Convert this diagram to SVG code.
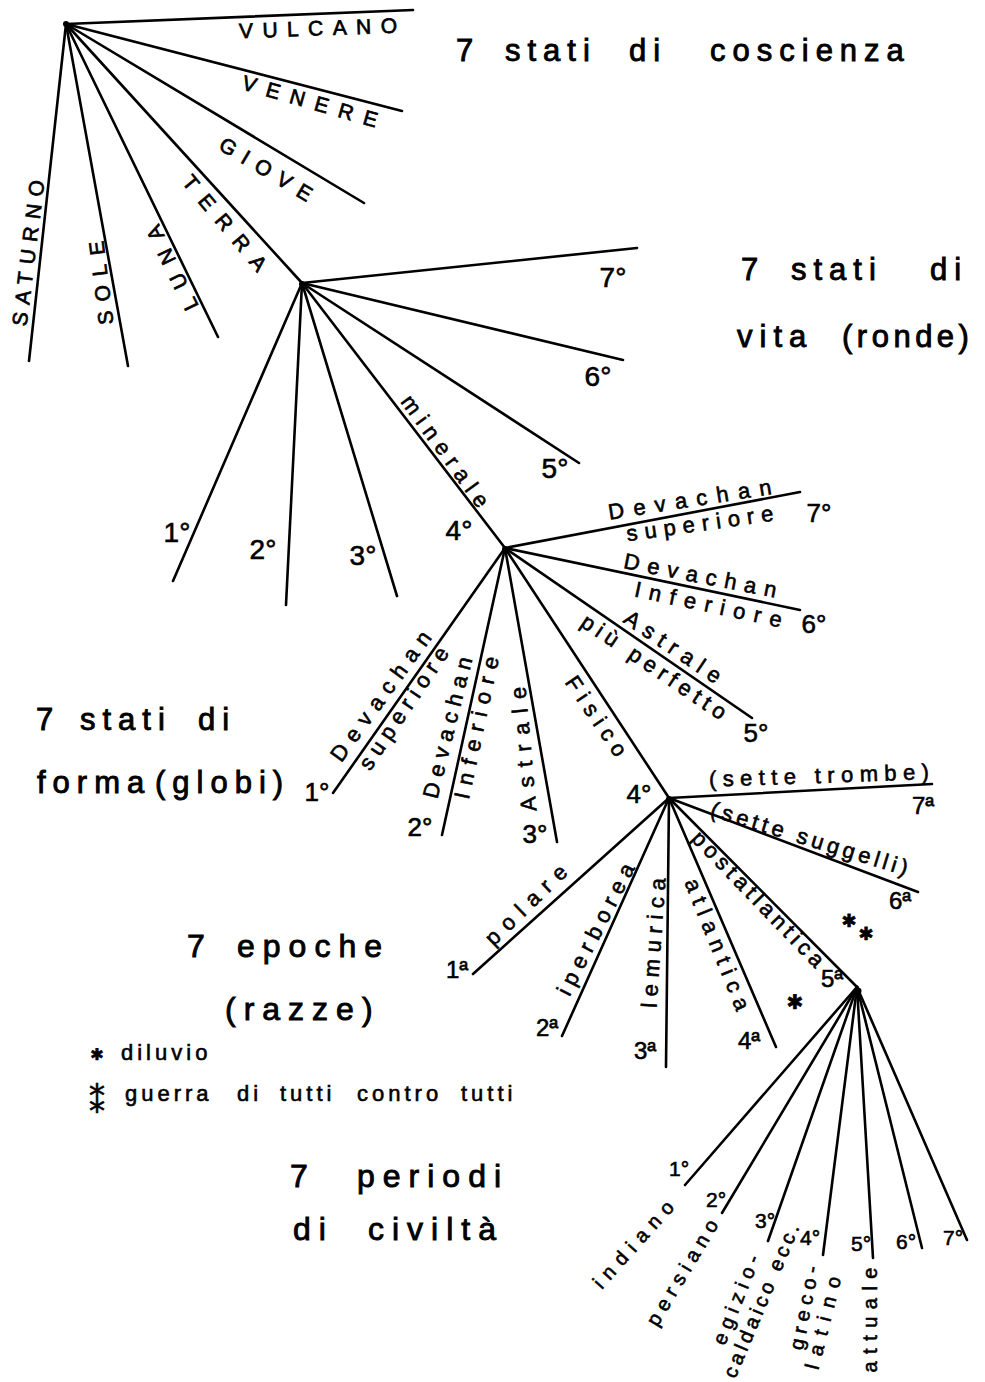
<svg xmlns="http://www.w3.org/2000/svg" width="985" height="1382" viewBox="0 0 985 1382">
<style>
.ln{stroke:#000;stroke-width:2.6;stroke-linecap:round;fill:none}
.knot{fill:#000}
text{font-family:"Liberation Sans","DejaVu Sans",sans-serif;fill:#000;stroke:#000;stroke-width:0.6px}
.hd{font-size:31px;letter-spacing:7px;stroke-width:0.9px}
.hd2{font-size:32px;letter-spacing:8px;stroke-width:0.9px}
.cap{font-size:21px;text-anchor:middle;stroke-width:0.7px}
.lb{font-size:22px;text-anchor:middle}
.lb2{font-size:20px;text-anchor:middle}
.o2{font-size:28px;text-anchor:middle}
.o3{font-size:26px;text-anchor:middle}
.o4{font-size:24px;text-anchor:middle}
.o5{font-size:21px;text-anchor:middle}
.lg{font-size:22px;letter-spacing:4px}
.sym{font-family:"DejaVu Sans",sans-serif;text-anchor:middle}
</style>
<rect width="985" height="1382" fill="#fff"/>

<g id="connectors">
  <g id="fan1">
    <line class="ln" x1="66" y1="24" x2="413" y2="10"/>
    <line class="ln" x1="66" y1="24" x2="402" y2="111"/>
    <line class="ln" x1="66" y1="24" x2="364" y2="203"/>
    <line class="ln" x1="66" y1="24" x2="302" y2="283"/>
    <line class="ln" x1="66" y1="24" x2="218" y2="337"/>
    <line class="ln" x1="66" y1="24" x2="128" y2="366"/>
    <line class="ln" x1="66" y1="24" x2="29" y2="361"/>
    <circle class="knot" cx="66" cy="24" r="3"/>
  </g>
  <g id="fan2">
    <line class="ln" x1="302" y1="283" x2="637" y2="248"/>
    <line class="ln" x1="302" y1="283" x2="623" y2="360"/>
    <line class="ln" x1="302" y1="283" x2="579" y2="463"/>
    <line class="ln" x1="302" y1="283" x2="505" y2="548"/>
    <line class="ln" x1="302" y1="283" x2="397" y2="596"/>
    <line class="ln" x1="302" y1="283" x2="286" y2="605"/>
    <line class="ln" x1="302" y1="283" x2="173" y2="581"/>
    <circle class="knot" cx="302" cy="284" r="3"/>
  </g>
  <g id="fan3">
    <line class="ln" x1="505" y1="548" x2="800" y2="492"/>
    <line class="ln" x1="505" y1="548" x2="800" y2="610"/>
    <line class="ln" x1="505" y1="548" x2="752" y2="718"/>
    <line class="ln" x1="505" y1="548" x2="669" y2="798"/>
    <line class="ln" x1="505" y1="548" x2="557" y2="842"/>
    <line class="ln" x1="505" y1="548" x2="442" y2="835"/>
    <line class="ln" x1="505" y1="548" x2="333" y2="793"/>
    <circle class="knot" cx="505" cy="549" r="3"/>
  </g>
  <g id="fan4">
    <line class="ln" x1="669" y1="798" x2="932" y2="784"/>
    <line class="ln" x1="669" y1="798" x2="918" y2="892"/>
    <line class="ln" x1="669" y1="798" x2="857" y2="987"/>
    <line class="ln" x1="669" y1="798" x2="776" y2="1047"/>
    <line class="ln" x1="669" y1="798" x2="666" y2="1067"/>
    <line class="ln" x1="669" y1="798" x2="562" y2="1036"/>
    <line class="ln" x1="669" y1="798" x2="473" y2="974"/>
    <circle class="knot" cx="669" cy="799" r="3"/>
  </g>
  <g id="fan5">
    <line class="ln" x1="857" y1="987" x2="685" y2="1185"/>
    <line class="ln" x1="857" y1="987" x2="722" y2="1213"/>
    <line class="ln" x1="857" y1="987" x2="768" y2="1241"/>
    <line class="ln" x1="857" y1="987" x2="823" y2="1255"/>
    <line class="ln" x1="857" y1="987" x2="873" y2="1258"/>
    <line class="ln" x1="857" y1="987" x2="922" y2="1248"/>
    <line class="ln" x1="857" y1="987" x2="967" y2="1240"/>
    <circle class="knot" cx="858" cy="991" r="3.5"/>
  </g>
</g>

<g id="heading-coscienza">
  <text class="hd" y="61"><tspan x="456">7 </tspan><tspan x="505">stati </tspan><tspan x="629">di </tspan><tspan x="710">coscienza</tspan></text>
</g>
<g id="heading-vita">
  <text class="hd" y="280"><tspan x="741">7 </tspan><tspan x="791">stati </tspan><tspan x="930">di</tspan></text>
  <text class="hd" y="347"><tspan x="737">vita </tspan><tspan x="842" style="letter-spacing:4.5px">(ronde)</tspan></text>
</g>
<g id="heading-forma">
  <text class="hd" y="730"><tspan x="36">7 </tspan><tspan x="80">stati </tspan><tspan x="198">di</tspan></text>
  <text class="hd" y="793"><tspan x="37">forma </tspan><tspan x="155">(globi)</tspan></text>
</g>
<g id="heading-epoche">
  <text class="hd2" y="957"><tspan x="187">7 </tspan><tspan x="237">epoche</tspan></text>
  <text class="hd2" x="225" y="1020">(razze)</text>
</g>
<g id="legend">
  <text class="sym" x="97" y="1060" font-size="16">✱</text>
  <text class="lg" x="121" y="1060">diluvio</text>
  <text class="sym" x="97" y="1113" font-size="32">⁑</text>
  <text class="lg" y="1101"><tspan x="125">guerra </tspan><tspan x="237">di </tspan><tspan x="280">tutti </tspan><tspan x="357">contro </tspan><tspan x="461">tutti</tspan></text>
</g>
<g id="heading-periodi">
  <text class="hd2" y="1187"><tspan x="290">7 </tspan><tspan x="357">periodi</tspan></text>
  <text class="hd2" y="1240"><tspan x="293">di </tspan><tspan x="368">civiltà</tspan></text>
</g>

<g id="labels-fan1">
  <g id="vulcano"><text class="cap" transform="translate(318 28) rotate(-2)" y="7.5" textLength="158" lengthAdjust="spacing">VULCANO</text></g>
  <g id="venere"><text class="cap" transform="translate(310 101) rotate(16)" y="7.5" textLength="140" lengthAdjust="spacing">VENERE</text></g>
  <g id="giove"><text class="cap" transform="translate(266 169) rotate(31)" y="7.5" textLength="104" lengthAdjust="spacing">GIOVE</text></g>
  <g id="terra"><text class="cap" transform="translate(225 223) rotate(50)" y="7.5" textLength="118" lengthAdjust="spacing">TERRA</text></g>
  <g id="luna"><text class="cap" transform="translate(172 268) rotate(-116)" y="7.5" textLength="92" lengthAdjust="spacing">LUNA</text></g>
  <g id="sole"><text class="cap" transform="translate(101 283) rotate(-97)" y="7.5" textLength="84" lengthAdjust="spacing">SOLE</text></g>
  <g id="saturno"><text class="cap" transform="translate(28 253) rotate(-83)" y="7.5" textLength="147" lengthAdjust="spacing">SATURNO</text></g>
</g>

<g id="labels-fan2">
  <g id="r7"><text class="o2" x="613" y="287">7°</text></g>
  <g id="r6"><text class="o2" x="598" y="386">6°</text></g>
  <g id="r5"><text class="o2" x="555" y="478">5°</text></g>
  <g id="r4"><text class="o2" x="459" y="540">4°</text>
    <text class="lb" transform="translate(444 452) rotate(54)" y="6" textLength="133" lengthAdjust="spacing">minerale</text></g>
  <g id="r3"><text class="o2" x="363" y="565">3°</text></g>
  <g id="r2"><text class="o2" x="263" y="559">2°</text></g>
  <g id="r1"><text class="o2" x="177" y="542">1°</text></g>
</g>

<g id="labels-fan3">
  <g id="g7">
    <text class="lb" transform="translate(690 501) rotate(-9)" y="6" textLength="165" lengthAdjust="spacing">Devachan</text>
    <text class="lb" transform="translate(700 525) rotate(-8)" y="6" textLength="148" lengthAdjust="spacing">superiore</text>
    <text class="o3" x="819" y="522">7°</text>
  </g>
  <g id="g6">
    <text class="lb" transform="translate(700 577) rotate(11)" y="6" textLength="155" lengthAdjust="spacing">Devachan</text>
    <text class="lb" transform="translate(708 606) rotate(12)" y="6" textLength="150" lengthAdjust="spacing">Inferiore</text>
    <text class="o3" x="814" y="633">6°</text>
  </g>
  <g id="g5">
    <text class="lb" transform="translate(672 648) rotate(34)" y="6" textLength="112" lengthAdjust="spacing">Astrale</text>
    <text class="lb" transform="translate(653 668) rotate(34)" y="6" textLength="170" lengthAdjust="spacing">più perfetto</text>
    <text class="o3" x="756" y="742">5°</text>
  </g>
  <g id="g4">
    <text class="lb" transform="translate(595 717) rotate(56)" y="6" textLength="92" lengthAdjust="spacing">Fisico</text>
    <text class="o3" x="639" y="803">4°</text>
  </g>
  <g id="g3">
    <text class="lb" transform="translate(525 749) rotate(-95)" y="6" textLength="125" lengthAdjust="spacing">Astrale</text>
    <text class="o3" x="535" y="843">3°</text>
  </g>
  <g id="g2">
    <text class="lb" transform="translate(449 728) rotate(-76)" y="6" textLength="145" lengthAdjust="spacing">Devachan</text>
    <text class="lb" transform="translate(478 728) rotate(-78)" y="6" textLength="145" lengthAdjust="spacing">Inferiore</text>
    <text class="o3" x="420" y="836">2°</text>
  </g>
  <g id="g1">
    <text class="lb" transform="translate(382 697) rotate(-54)" y="6" textLength="155" lengthAdjust="spacing">Devachan</text>
    <text class="lb" transform="translate(405 709) rotate(-56)" y="6" textLength="143" lengthAdjust="spacing">superiore</text>
    <text class="o3" x="317" y="801">1°</text>
  </g>
</g>

<g id="labels-fan4">
  <g id="e7">
    <text class="lb" transform="translate(819 777) rotate(-2)" y="6" textLength="220" lengthAdjust="spacing">(sette trombe)</text>
    <text class="o4" x="923" y="814">7ª</text>
  </g>
  <g id="e6">
    <text class="lb" transform="translate(809 840) rotate(17)" y="6" textLength="205" lengthAdjust="spacing">(sette suggelli)</text>
    <text class="o4" x="900" y="909">6ª</text>
  </g>
  <g id="e5">
    <text class="lb" transform="translate(757 900) rotate(46)" y="6" textLength="180" lengthAdjust="spacing">postatlantica</text>
    <text class="o4" x="832" y="987">5ª</text>
  </g>
  <g id="e4">
    <text class="lb" transform="translate(716 945) rotate(68)" y="6" textLength="140" lengthAdjust="spacing">atlantica</text>
    <text class="o4" x="749" y="1049">4ª</text>
  </g>
  <g id="e3">
    <text class="lb" transform="translate(655 943) rotate(-86)" y="6" textLength="130" lengthAdjust="spacing">lemurica</text>
    <text class="o4" x="645" y="1059">3ª</text>
  </g>
  <g id="e2">
    <text class="lb" transform="translate(597 930) rotate(-63)" y="6" textLength="145" lengthAdjust="spacing">iperborea</text>
    <text class="o4" x="547" y="1036">2ª</text>
  </g>
  <g id="e1">
    <text class="lb" transform="translate(527 906) rotate(-44)" y="6" textLength="105" lengthAdjust="spacing">polare</text>
    <text class="o4" x="457" y="978">1ª</text>
  </g>
  <g id="marks">
    <text class="sym" font-size="18"><tspan x="849" y="927">✱</tspan><tspan x="866" y="940">✱</tspan></text>
    <text class="sym" x="795" y="1009" font-size="20">✱</text>
  </g>
</g>

<g id="labels-fan5">
  <g id="p1"><text class="o5" x="679" y="1176">1°</text>
    <text class="lb2" transform="translate(634 1245) rotate(-48)" y="6" textLength="110" lengthAdjust="spacing">indiano</text></g>
  <g id="p2"><text class="o5" x="716" y="1207">2°</text>
    <text class="lb2" transform="translate(683 1273) rotate(-59)" y="6" textLength="120" lengthAdjust="spacing">persiano</text></g>
  <g id="p3"><text class="o5" x="765" y="1228">3°</text>
    <text class="lb2" transform="translate(737 1300) rotate(-68)" y="6" textLength="95" lengthAdjust="spacing">egizio-</text>
    <text class="lb2" transform="translate(762 1301) rotate(-67)" y="6" textLength="165" lengthAdjust="spacing">caldaico ecc.</text></g>
  <g id="p4"><text class="o5" x="810" y="1245">4°</text>
    <text class="lb2" transform="translate(805 1308) rotate(-79)" y="6" textLength="85" lengthAdjust="spacing">greco-</text>
    <text class="lb2" transform="translate(824 1323) rotate(-76)" y="6" textLength="95" lengthAdjust="spacing">latino</text></g>
  <g id="p5"><text class="o5" x="861" y="1251">5°</text>
    <text class="lb2" transform="translate(871 1320) rotate(-90)" y="6" textLength="105" lengthAdjust="spacing">attuale</text></g>
  <g id="p6"><text class="o5" x="906" y="1249">6°</text></g>
  <g id="p7"><text class="o5" x="953" y="1245">7°</text></g>
</g>
</svg>
